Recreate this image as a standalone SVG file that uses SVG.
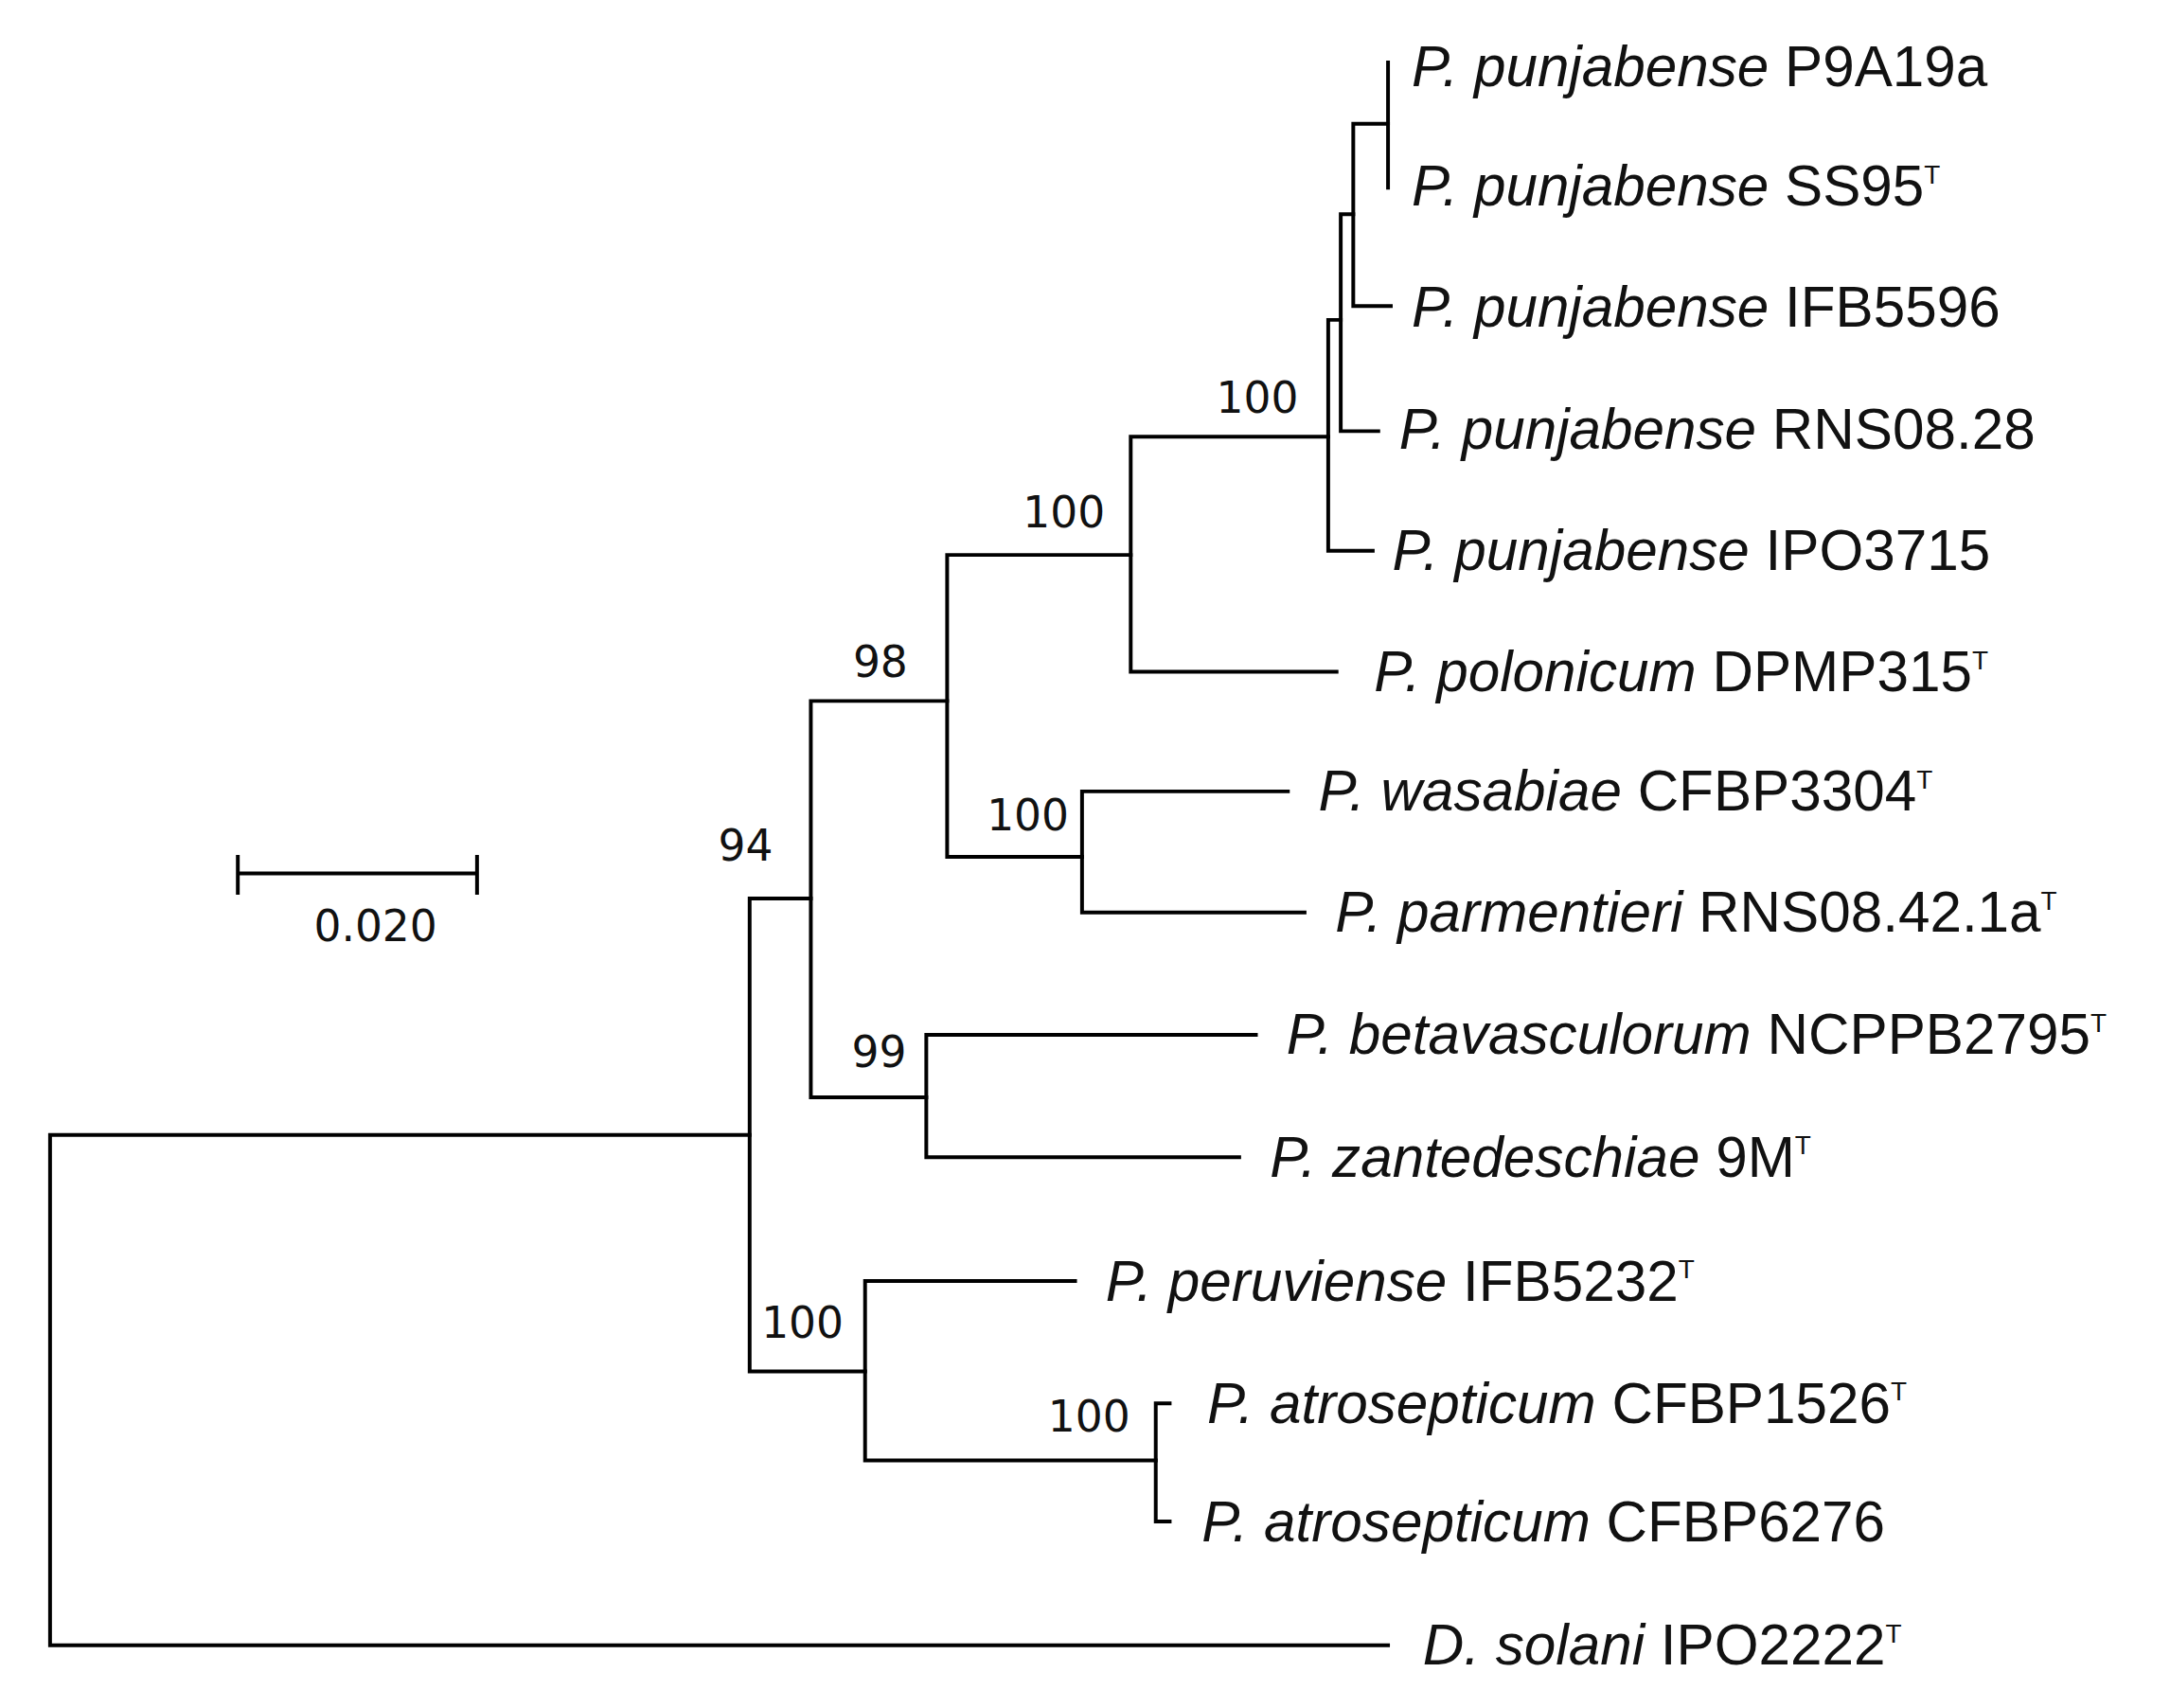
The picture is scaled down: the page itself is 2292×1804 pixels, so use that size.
<svg xmlns="http://www.w3.org/2000/svg" width="2292" height="1804" viewBox="0 0 2292 1804">
<style>
.br{fill:none;stroke:#000;stroke-width:2.7;stroke-linecap:square}
.lb{font-family:"Liberation Sans",Arial,sans-serif;font-size:41px;fill:#111}
.it{font-style:italic}
.sup{font-size:19px}
.bs{font-family:"DejaVu Sans",Verdana,sans-serif;font-size:31px;fill:#111}
</style>
<rect width="2292" height="1804" fill="#fff"/>
<g transform="scale(1.469) translate(-2,-4)">
<g id="connectors">
<path class="br" d="M38,820V1187M38,820H541M38,1187H1000"/>
<path class="br" d="M541,650V990M541,650H585M541,990H624"/>
<path class="br" d="M585,508V793M585,508H683M585,793H668"/>
<path class="br" d="M683,403V620M683,403H815M683,620H780"/>
<path class="br" d="M815,318V487M815,318H957M815,487H963"/>
<path class="br" d="M957,234V400M957,234H966M957,400H989"/>
<path class="br" d="M966,158V314M966,158H975M966,314H993"/>
<path class="br" d="M975,93V224M975,93H1000M975,224H1002"/>
<path class="br" d="M1000,49V139"/>
<path class="br" d="M780,573V660M780,573H928M780,660H940"/>
<path class="br" d="M668,748V836M668,748H905M668,836H893"/>
<path class="br" d="M624,925V1054M624,925H775M624,1054H833"/>
<path class="br" d="M833,1013V1098M833,1013H843M833,1098H843"/>
</g>
<g id="scalebar">
<path class="br" d="M173,632H345M173,620V646M345,620V646"/>
<text class="bs" x="272" y="681" text-anchor="middle">0.020</text>
</g>
<g id="support">
<text class="bs" x="538" y="623" text-anchor="middle">94</text>
<text class="bs" x="635" y="491" text-anchor="middle">98</text>
<text class="bs" x="767" y="383" text-anchor="middle">100</text>
<text class="bs" x="906" y="301" text-anchor="middle">100</text>
<text class="bs" x="741" y="601" text-anchor="middle">100</text>
<text class="bs" x="634" y="771" text-anchor="middle">99</text>
<text class="bs" x="579" y="966" text-anchor="middle">100</text>
<text class="bs" x="785" y="1033" text-anchor="middle">100</text>
</g>
<g id="leaf-P9A19a"><text class="lb" x="1017" y="66"><tspan class="it">P. punjabense</tspan> P9A19a</text></g>
<g id="leaf-SS95"><text class="lb" x="1017" y="152"><tspan class="it">P. punjabense</tspan> SS95<tspan class="sup" dy="-16">T</tspan></text></g>
<g id="leaf-IFB5596"><text class="lb" x="1017" y="239"><tspan class="it">P. punjabense</tspan> IFB5596</text></g>
<g id="leaf-RNS0828"><text class="lb" x="1008" y="327"><tspan class="it">P. punjabense</tspan> RNS08.28</text></g>
<g id="leaf-IPO3715"><text class="lb" x="1003" y="414"><tspan class="it">P. punjabense</tspan> IPO3715</text></g>
<g id="leaf-DPMP315"><text class="lb" x="990" y="501"><tspan class="it">P. polonicum</tspan> DPMP315<tspan class="sup" dy="-16">T</tspan></text></g>
<g id="leaf-CFBP3304"><text class="lb" x="950" y="587"><tspan class="it">P. wasabiae</tspan> CFBP3304<tspan class="sup" dy="-16">T</tspan></text></g>
<g id="leaf-RNS08421a"><text class="lb" x="962" y="674"><tspan class="it">P. parmentieri</tspan> RNS08.42.1a<tspan class="sup" dy="-16">T</tspan></text></g>
<g id="leaf-NCPPB2795"><text class="lb" x="927" y="762"><tspan class="it">P. betavasculorum</tspan> NCPPB2795<tspan class="sup" dy="-16">T</tspan></text></g>
<g id="leaf-9M"><text class="lb" x="915" y="850"><tspan class="it">P. zantedeschiae</tspan> 9M<tspan class="sup" dy="-16">T</tspan></text></g>
<g id="leaf-IFB5232"><text class="lb" x="797" y="939"><tspan class="it">P. peruviense</tspan> IFB5232<tspan class="sup" dy="-16">T</tspan></text></g>
<g id="leaf-CFBP1526"><text class="lb" x="870" y="1027"><tspan class="it">P. atrosepticum</tspan> CFBP1526<tspan class="sup" dy="-16">T</tspan></text></g>
<g id="leaf-CFBP6276"><text class="lb" x="866" y="1112"><tspan class="it">P. atrosepticum</tspan> CFBP6276</text></g>
<g id="leaf-IPO2222"><text class="lb" x="1025" y="1201"><tspan class="it">D. solani</tspan> IPO2222<tspan class="sup" dy="-16">T</tspan></text></g>
</g>
</svg>
